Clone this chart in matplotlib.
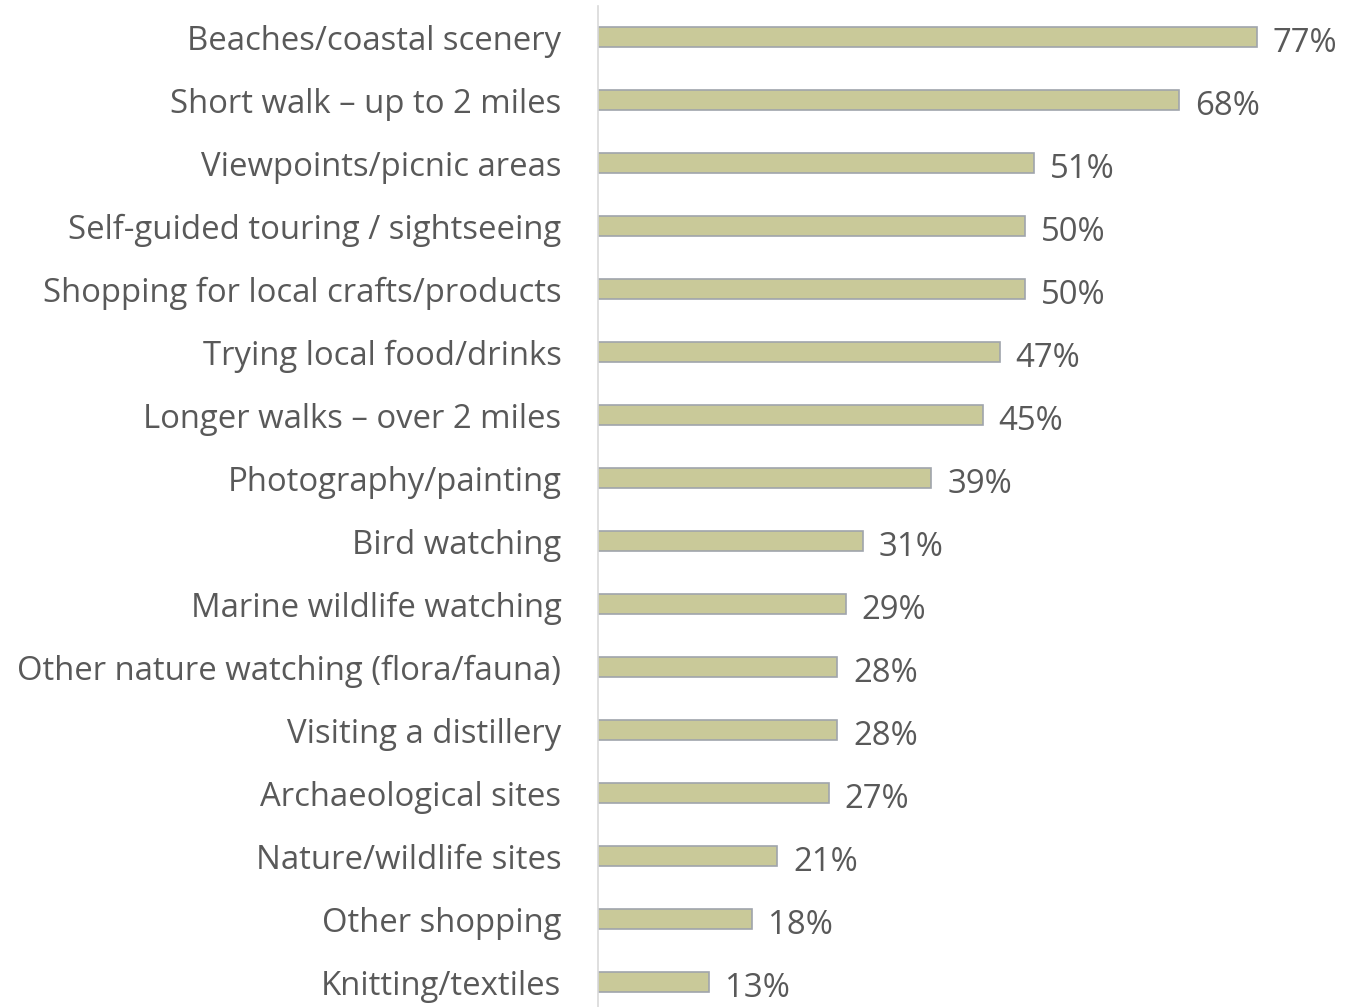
import matplotlib
matplotlib.use("Agg")
import matplotlib.pyplot as plt

categories = [
    "Beaches/coastal scenery",
    "Short walk \u2013 up to 2 miles",
    "Viewpoints/picnic areas",
    "Self-guided touring / sightseeing",
    "Shopping for local crafts/products",
    "Trying local food/drinks",
    "Longer walks \u2013 over 2 miles",
    "Photography/painting",
    "Bird watching",
    "Marine wildlife watching",
    "Other nature watching (flora/fauna)",
    "Visiting a distillery",
    "Archaeological sites",
    "Nature/wildlife sites",
    "Other shopping",
    "Knitting/textiles",
]
values = [77, 68, 51, 50, 50, 47, 45, 39, 31, 29, 28, 28, 27, 21, 18, 13]

plt.rcParams['font.family'] = ['Open Sans', 'DejaVu Sans']
W, H = 1363, 1007
fig = plt.figure(figsize=(W / 100, H / 100), dpi=100)
left = 597.5 / W
px_per = (1257 - 598) / 77.0
xmax = (W - 597.5) / px_per
top_px = 37 - 31.5
bot_px = 982 + 31.5
ax = fig.add_axes([left, 1 - bot_px / H, 1 - left, (bot_px - top_px) / H])

FS = 23.7
n = len(categories)
ys = list(range(n))
ax.barh(ys, values, height=0.32, color="#C9C999", edgecolor="#A0A4AC", linewidth=1.2)
ax.set_ylim(n - 0.5, -0.5)
ax.set_xlim(0, xmax)
ax.set_yticks(ys)
ax.set_yticklabels(categories, fontsize=FS, color="#595959")
ax.tick_params(axis="y", length=0, pad=26)
for lbl in ax.get_yticklabels():
    lbl.set_va("center_baseline")
ax.set_xticks([])
for s in ["top", "right", "bottom"]:
    ax.spines[s].set_visible(False)
ax.spines["left"].set_color("#D9D9D9")
ax.spines["left"].set_linewidth(1.2)
for y, v in zip(ys, values):
    ax.annotate(f"{v}%", xy=(v, y), xytext=(16, -2), textcoords="offset pixels",
                va="center_baseline", ha="left", fontsize=FS, color="#595959")

fig.savefig("out.png", dpi=100)
